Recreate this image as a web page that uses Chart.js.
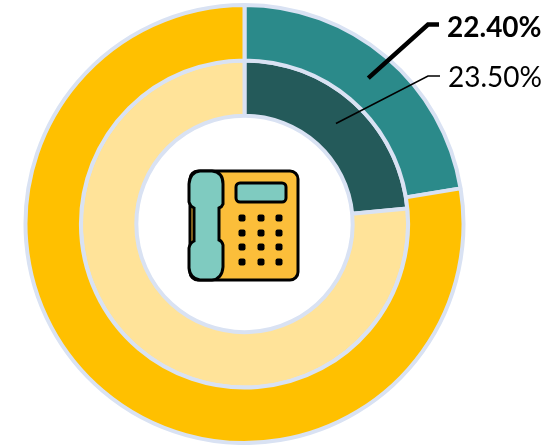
<!DOCTYPE html>
<html><head><meta charset="utf-8">
<style>html,body{margin:0;padding:0;background:#fff}#w{width:556px;height:445px;position:relative}</style>
<script src="https://cdn.jsdelivr.net/npm/chart.js@4"></script>
</head><body><div id="w"><canvas id="c" width="556" height="445"></canvas></div>
<script>
const categories = ['Share', 'Other'];
const outerValues = [22.4, 77.6];
const innerValues = [23.5, 76.5];
const outerColors = ['#2B8A8A', '#FFC000'];
const innerColors = ['#245A5A', '#FFE399'];
const outerLabel = '22.40%';
const innerLabel = '23.50%';

const rr = (x,y,w,h,r,ctx)=>{ctx.beginPath();ctx.roundRect(x,y,w,h,r);};
const extras = {
  id:'extras',
  afterDraw(chart){
    const ctx = chart.ctx;
    const a0 = chart.getDatasetMeta(0).data[0].getCenterPoint();
    const a1 = chart.getDatasetMeta(1).data[0].getCenterPoint();
    ctx.save();
    ctx.strokeStyle='#000'; ctx.lineJoin='miter';
    ctx.lineWidth=4.5; ctx.beginPath(); ctx.moveTo(a0.x,a0.y); ctx.lineTo(428,24.5); ctx.lineTo(439,24.5); ctx.stroke();
    ctx.lineWidth=1.6; ctx.beginPath(); ctx.moveTo(a1.x,a1.y); ctx.lineTo(428,76); ctx.lineTo(440,76); ctx.stroke();
    ctx.fillStyle='#000'; ctx.textBaseline='alphabetic'; ctx.textAlign='left';
    ctx.font='bold 28px Lato, Carlito, sans-serif'; ctx.fillText(outerLabel,447,37);
    ctx.font='28px Lato, Carlito, sans-serif'; ctx.fillText(innerLabel,448,87);
    // phone icon
    ctx.lineWidth=3; ctx.strokeStyle='#000';
    ctx.fillStyle='#FBBE3A'; rr(190,171,108,109,8,ctx); ctx.fill(); ctx.stroke();
    ctx.fillStyle='#7FCBC0';
    ctx.beginPath();
    ctx.moveTo(200,171); ctx.lineTo(212,171);
    ctx.quadraticCurveTo(223,172,223,184); ctx.lineTo(223,204);
    ctx.quadraticCurveTo(222,207,219,208); ctx.lineTo(219,240);
    ctx.quadraticCurveTo(222,241,223,245); ctx.lineTo(223,267);
    ctx.quadraticCurveTo(222,279,212,280); ctx.lineTo(200,280);
    ctx.quadraticCurveTo(190,279,189,268); ctx.lineTo(189,248);
    ctx.quadraticCurveTo(190,243,194,241); ctx.lineTo(194,208);
    ctx.quadraticCurveTo(190,206,189,202); ctx.lineTo(189,184);
    ctx.quadraticCurveTo(190,172,200,171); ctx.closePath(); ctx.fill(); ctx.stroke();
    rr(236,183,50,19,4,ctx); ctx.fill(); ctx.stroke();
    ctx.fillStyle='#000';
    for(const y of [218,233,247,262]) for(const x of [242,261,279]){ rr(x-3.5,y-3.5,7,7,2,ctx); ctx.fill(); }
    ctx.restore();
  }
};
new Chart(document.getElementById('c'),{
  type:'doughnut',
  data:{labels:categories,datasets:[
    {data:outerValues,backgroundColor:outerColors,borderColor:'#D9E2F3',borderWidth:4},
    {data:innerValues,backgroundColor:innerColors,borderColor:'#D9E2F3',borderWidth:4}
  ]},
  options:{responsive:false,animation:false,cutout:'49.4%',
    layout:{padding:{left:21,right:88,top:3,bottom:-5}},
    plugins:{legend:{display:false},tooltip:{enabled:false}}},
  plugins:[extras]
});
</script></body></html>
